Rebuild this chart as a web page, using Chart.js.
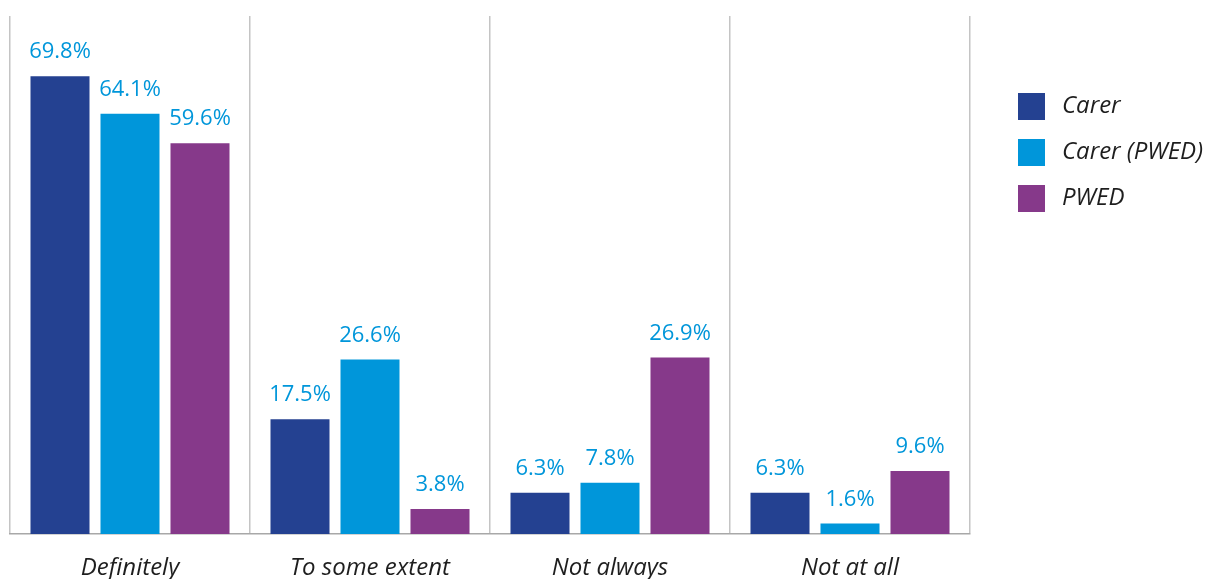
<!DOCTYPE html>
<html>
<head>
<meta charset="utf-8">
<script src="https://cdn.jsdelivr.net/npm/chart.js@4.4.1/dist/chart.umd.min.js"></script>
<style>
  html, body { margin: 0; padding: 0; background: #ffffff; }
  #wrap { width: 1210px; height: 579px; position: relative; }
</style>
</head>
<body>
<div id="wrap"><canvas id="chart" width="1210" height="579"></canvas></div>
<script>
// Survey responses by respondent group (percent)
const categories = ["Definitely", "To some extent", "Not always", "Not at all"];
const seriesNames = ["Carer", "Carer (PWED)", "PWED"];
const carer = [69.8, 17.5, 6.3, 6.3];
const carerPwed = [64.1, 26.6, 7.8, 1.6];
const pwed = [59.6, 3.8, 26.9, 9.6];
const seriesColors = ["#244191", "#0096da", "#86398a"];

const FONT = "'Open Sans', 'DejaVu Sans', sans-serif";

// Percentage labels above each bar
const valueLabels = {
  id: "valueLabels",
  afterDatasetsDraw(chart) {
    const ctx = chart.ctx;
    ctx.save();
    ctx.font = "22px " + FONT;
    ctx.fillStyle = "#0096da";
    ctx.textAlign = "center";
    ctx.textBaseline = "alphabetic";
    chart.data.datasets.forEach((ds, di) => {
      const meta = chart.getDatasetMeta(di);
      meta.data.forEach((bar, i) => {
        ctx.fillText(ds.data[i].toFixed(1) + "%", bar.x, bar.y - 18);
      });
    });
    ctx.restore();
  }
};

// Legend block to the right of the plot
const sideLegend = {
  id: "sideLegend",
  afterDraw(chart) {
    const ctx = chart.ctx;
    const left = chart.chartArea.right + 48;
    const top = 93;
    const box = 27;
    const step = 46;
    ctx.save();
    ctx.font = "italic 24px " + FONT;
    ctx.textBaseline = "middle";
    ctx.textAlign = "left";
    chart.data.datasets.forEach((ds, i) => {
      const y = top + i * step;
      ctx.fillStyle = ds.backgroundColor;
      ctx.fillRect(left, y, box, box);
      ctx.fillStyle = "#1e1e1e";
      ctx.fillText(ds.label, left + box + 17, y + box / 2);
    });
    ctx.restore();
  }
};

const values = [carer, carerPwed, pwed];

new Chart(document.getElementById("chart"), {
  type: "bar",
  data: {
    labels: categories,
    datasets: seriesNames.map((name, i) => ({
      label: name,
      data: values[i],
      backgroundColor: seriesColors[i],
      categoryPercentage: 0.875,
      barPercentage: 0.843
    }))
  },
  options: {
    responsive: false,
    animation: false,
    layout: { padding: { left: 10, right: 240, top: 16, bottom: 0 } },
    plugins: {
      legend: { display: false },
      tooltip: { enabled: false }
    },
    scales: {
      x: {
        offset: true,
        afterFit(scale) { scale.height = 45; },
        grid: {
          display: true,
          offset: true,
          drawTicks: false,
          color: "#c4c4c4",
          lineWidth: 1.5
        },
        border: { display: true, color: "#a8a8a8", width: 1.5 },
        ticks: {
          color: "#1e1e1e",
          font: { family: FONT, size: 24, style: "italic" },
          padding: 20
        }
      },
      y: {
        display: false,
        min: 0,
        max: 79
      }
    }
  },
  plugins: [valueLabels, sideLegend]
});
</script>
</body>
</html>
